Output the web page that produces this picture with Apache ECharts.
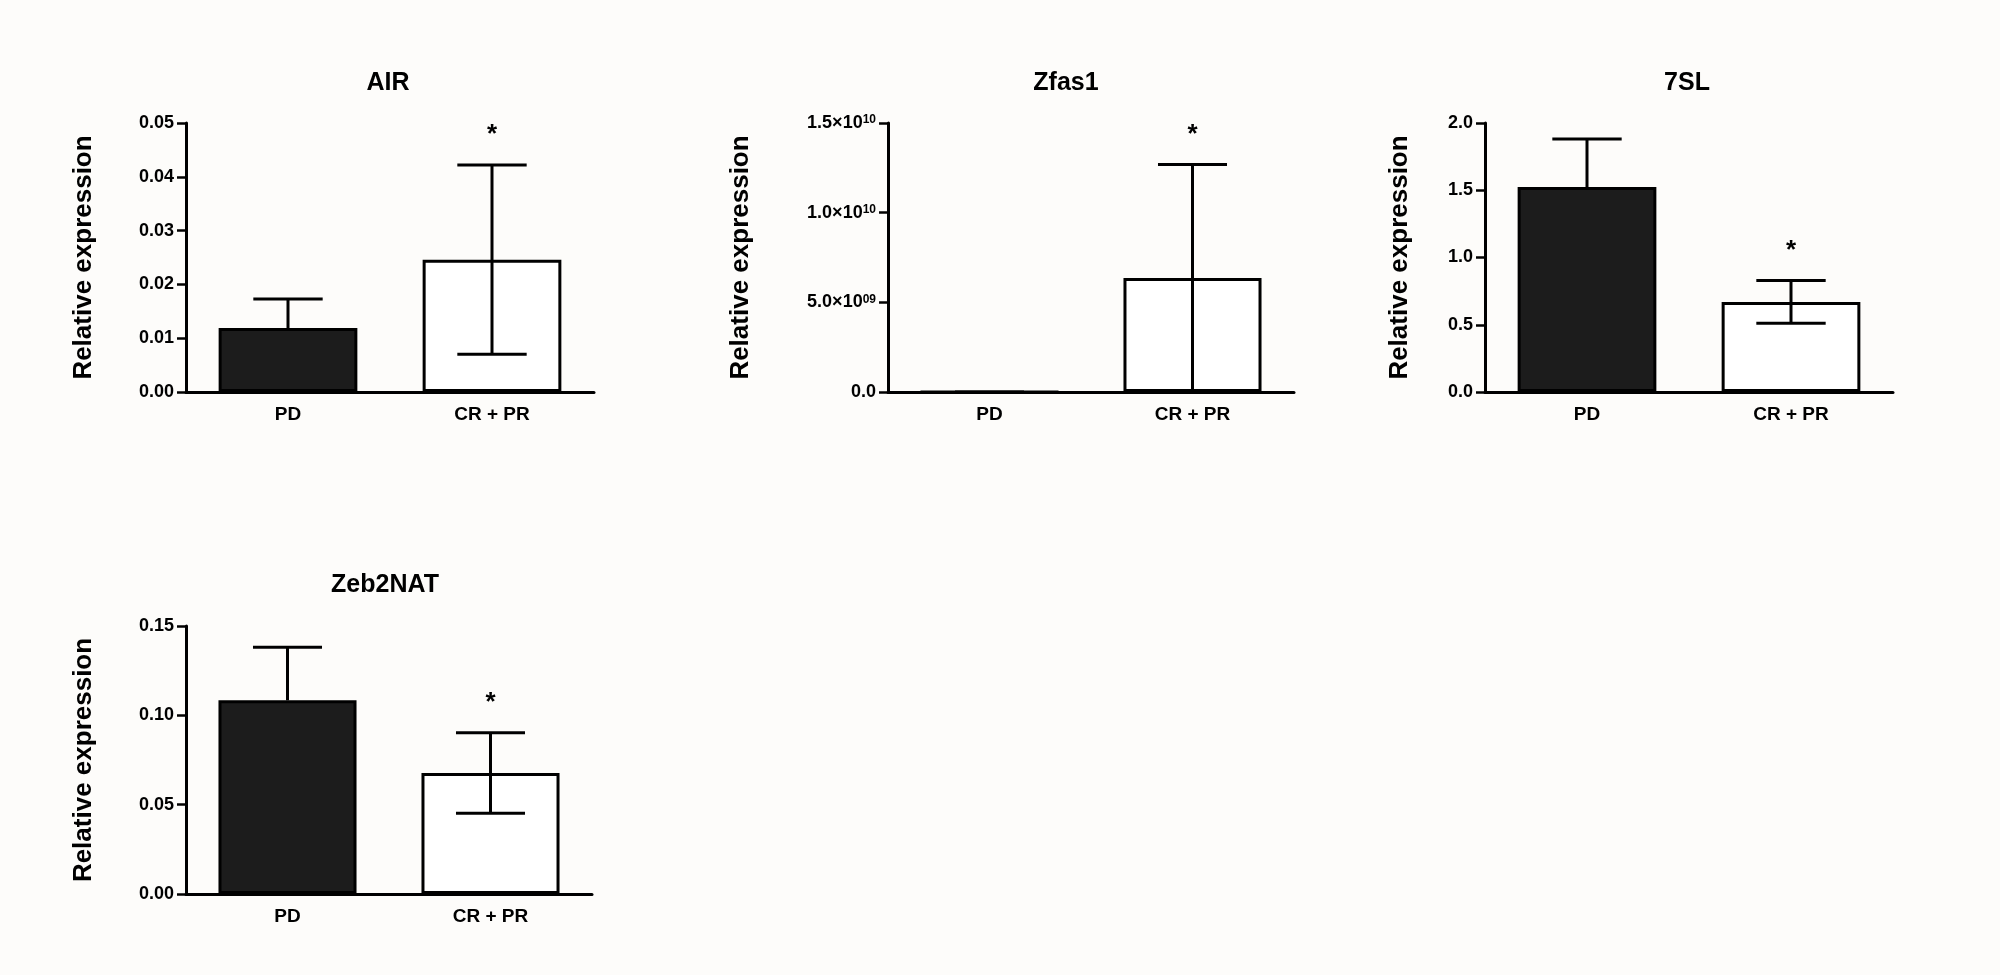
<!DOCTYPE html>
<html lang="en">
<head>
    <meta charset="UTF-8">
    <title>Relative expression</title>
    <style>
        html, body { margin: 0; padding: 0; background: #fdfcfa; }
    </style>
</head>
<body>
    <div id="main" style="width: 2000px;height:975px;"></div>
    <script src="https://cdn.jsdelivr.net/npm/echarts@6/dist/echarts.min.js"></script>
    <script>

// groups on the x axis
var groups = ['PD', 'CR + PR'];
var panelTitles = ['AIR', 'Zfas1', '7SL', 'Zeb2NAT'];

// mean and SD for each panel
var airMean = [0.0119, 0.0246];
var airSd = [0.0054, 0.0176];
var zfasMean = [0, 6.35e9];
var zfasSd = [0, 6.33e9];
var slMean = [1.524, 0.670];
var slSd = [0.357, 0.159];
var zebMean = [0.1084, 0.0677];
var zebSd = [0.0297, 0.0225];
// significance star over the group (1 = *)
var stars = [[0, 1], [0, 1], [0, 1], [0, 1]];
// filled group only shows the upper whisker
var filled = [1, 0];

// y axis ranges
var yMax = [0.05, 1.5e10, 2.0, 0.15];
var yStep = [0.01, 5e9, 0.5, 0.05];
var yDigits = [2, 1, 1, 2];

var means = [airMean, zfasMean, slMean, zebMean];
var sds = [airSd, zfasSd, slSd, zebSd];

var FONT = '"Liberation Sans", Arial, sans-serif';
var black = '#000';

// grid boxes in px
var grids = [
    {left: 186, top: 123, width: 408, height: 269},
    {left: 888, top: 123, width: 406, height: 269},
    {left: 1485, top: 123, width: 408, height: 269},
    {left: 186, top: 626, width: 406, height: 268}
];
var nameGaps = [89, 134, 72, 89];
var titlePos = [[388, 83], [1066, 83], [1687, 83], [385, 585]];

function sciLabel(v) {
    if (v === 0) return '{m|0.0}';
    var e = Math.floor(Math.log10(v) + 1e-9);
    var m = v / Math.pow(10, e);
    var es = (e < 10 ? '0' : '') + e;
    return '{m|' + m.toFixed(1) + '×10}{s|' + es + '}';
}

var xAxes = [], yAxes = [], series = [], graphics = [];

for (var i = 0; i < 4; i++) {
    (function (i) {
        var digits = yDigits[i];
        xAxes.push({
            gridIndex: i,
            type: 'category',
            data: groups,
            axisLine: {lineStyle: {color: black, width: 3}},
            axisTick: {alignWithLabel: true, length: 9, lineStyle: {color: black, width: 3}},
            axisLabel: {color: black, fontFamily: FONT, fontWeight: 'bold', fontSize: 19, margin: 13}
        });
        yAxes.push({
            gridIndex: i,
            type: 'value',
            min: 0,
            max: yMax[i],
            interval: yStep[i],
            name: 'Relative expression',
            nameLocation: 'middle',
            nameGap: nameGaps[i],
            nameTextStyle: {color: black, fontFamily: FONT, fontWeight: 'bold', fontSize: 26},
            splitLine: {show: false},
            axisLine: {show: true, lineStyle: {color: black, width: 3}},
            axisTick: {show: true, length: 9, lineStyle: {color: black, width: 2.5}},
            axisLabel: {
                color: black, fontFamily: FONT, fontWeight: 'bold', fontSize: 18, margin: 12,
                formatter: i === 1 ? sciLabel : function (v) { return v.toFixed(digits); },
                rich: {
                    m: {color: black, fontFamily: FONT, fontWeight: 'bold', fontSize: 18},
                    s: {color: black, fontFamily: FONT, fontWeight: 'bold', fontSize: 12, verticalAlign: 'top'}
                }
            }
        });
        series.push({
            type: 'bar',
            xAxisIndex: i,
            yAxisIndex: i,
            barWidth: '68%',
            data: means[i].map(function (v, k) {
                return {value: v, itemStyle: {color: filled[k] ? '#1c1c1c' : '#ffffff'}};
            }),
            itemStyle: {borderColor: black, borderWidth: 3},
            silent: true
        });
        var errData = means[i].map(function (v, k) {
            var lo = filled[k] ? v : Math.max(0, v - sds[i][k]);
            return [k, lo, v + sds[i][k], stars[i][k]];
        });
        series.push({
            type: 'custom',
            xAxisIndex: i,
            yAxisIndex: i,
            z: 5,
            silent: true,
            data: errData,
            renderItem: function (params, api) {
                var k = api.value(0);
                var lo = api.coord([k, api.value(1)]);
                var hi = api.coord([k, api.value(2)]);
                var half = api.size([1, 0])[0] * 0.17;
                var ls = {stroke: black, lineWidth: 3};
                var kids = [
                    {type: 'line', shape: {x1: hi[0], y1: lo[1], x2: hi[0], y2: hi[1]}, style: ls},
                    {type: 'line', shape: {x1: hi[0] - half, y1: hi[1], x2: hi[0] + half, y2: hi[1]}, style: ls}
                ];
                if (!filled[k]) {
                    kids.push({type: 'line', shape: {x1: lo[0] - half, y1: lo[1], x2: lo[0] + half, y2: lo[1]}, style: ls});
                }
                if (api.value(3)) {
                    kids.push({
                        type: 'text',
                        x: hi[0], y: hi[1] - 30,
                        style: {text: '*', fill: black, font: 'bold 26px ' + FONT, align: 'center', verticalAlign: 'middle'}
                    });
                }
                return {type: 'group', children: kids};
            }
        });
        graphics.push({
            type: 'text',
            x: titlePos[i][0],
            y: titlePos[i][1],
            style: {text: panelTitles[i], fill: black, font: 'bold 25px ' + FONT, align: 'center', verticalAlign: 'middle'}
        });
    })(i);
}

var option = {
    backgroundColor: '#fdfcfa',
    animation: false,
    grid: grids,
    xAxis: xAxes,
    yAxis: yAxes,
    series: series,
    graphic: graphics
};

var myChart = echarts.init(document.getElementById('main'));
myChart.setOption(option);

    </script>
</body>
</html>
